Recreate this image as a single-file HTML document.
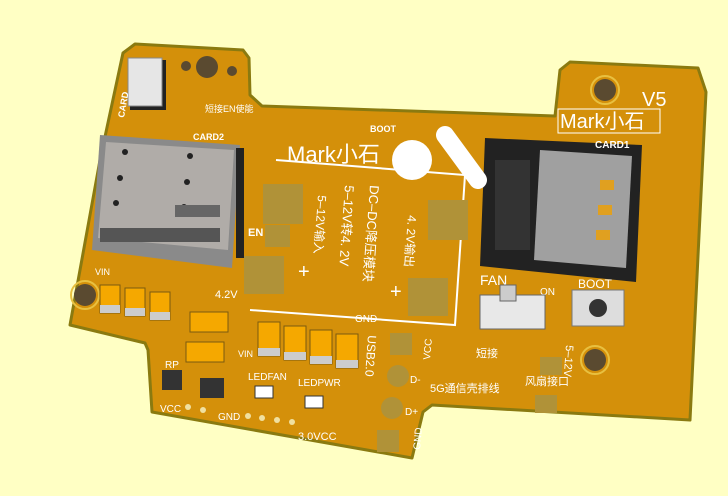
<!DOCTYPE html>
<html><head><meta charset="utf-8"><style>
body{margin:0;background:#FFFFC4;}
svg{display:block}
text{font-family:"Liberation Sans","Noto Sans CJK SC",sans-serif;fill:#fff}
</style></head><body>
<svg width="728" height="496" viewBox="0 0 728 496">
<rect width="728" height="496" fill="#FFFFC4"/>
<polygon points="135,44 243,50 249,58 250,95 262,106 555,116 560,70 570,62 698,68 706,92 690,420 432,405 423,412 412,458 152,412 148,350 145,343 70,325 100,160 123,53" fill="#D4900A" stroke="#8A7A10" stroke-width="3" stroke-linejoin="round"/>
<!-- mounting holes -->
<circle cx="207" cy="67" r="11" fill="#5a4a30"/>
<circle cx="186" cy="66" r="5" fill="#5a4a30"/><circle cx="232" cy="71" r="5" fill="#5a4a30"/>
<circle cx="605" cy="90" r="11" fill="#5a4a30"/><circle cx="605" cy="90" r="14" fill="none" stroke="#E8C040" stroke-width="2"/>
<circle cx="85" cy="295" r="11" fill="#5a4a30"/><circle cx="85" cy="295" r="14" fill="none" stroke="#E8C040" stroke-width="2"/>
<circle cx="595" cy="360" r="11" fill="#5a4a30"/><circle cx="595" cy="360" r="14" fill="none" stroke="#E8C040" stroke-width="2"/>
<!-- small switch top-left -->
<rect x="130" y="60" width="36" height="50" fill="#222"/>
<rect x="128" y="58" width="34" height="48" fill="#e6e6e6" stroke="#888"/>
<text transform="translate(124,118) rotate(-80)" font-size="9" font-weight="bold">CARD</text>
<!-- left SIM -->
<polygon points="100,135 240,145 232,268 92,250" fill="#8a8a8a"/>
<polygon points="106,142 234,150 228,250 98,238" fill="#b0aca8"/>
<circle cx="125" cy="152" r="3" fill="#222"/><circle cx="190" cy="156" r="3" fill="#222"/><circle cx="120" cy="178" r="3" fill="#222"/><circle cx="187" cy="182" r="3" fill="#222"/><circle cx="116" cy="203" r="3" fill="#222"/><circle cx="184" cy="207" r="3" fill="#222"/>
<rect x="175" y="205" width="45" height="12" fill="#666"/>
<rect x="100" y="228" width="120" height="14" fill="#555"/>
<rect x="236" y="148" width="8" height="110" fill="#222"/>
<!-- right SIM -->
<polygon points="485,138 642,145 636,282 480,266" fill="#222"/>
<polygon points="540,150 632,156 626,268 534,260" fill="#a0a0a0"/>
<rect x="495" y="160" width="35" height="90" fill="#333"/>
<rect x="600" y="180" width="14" height="10" fill="#E0A020"/><rect x="598" y="205" width="14" height="10" fill="#E0A020"/><rect x="596" y="230" width="14" height="10" fill="#E0A020"/>
<!-- DC-DC module outline -->
<polyline points="276,160 465,175 455,325 250,310" fill="none" stroke="#fff" stroke-width="2"/>
<rect x="263" y="184" width="40" height="40" fill="#B09238"/>
<rect x="428" y="200" width="40" height="40" fill="#B09238"/>
<rect x="244" y="256" width="40" height="38" fill="#B09238"/>
<rect x="408" y="278" width="40" height="38" fill="#B09238"/>
<rect x="265" y="225" width="25" height="22" fill="#B09238"/>
<text x="287" y="162" font-size="22">Mark小石</text>
<circle cx="412" cy="160" r="20" fill="#fff"/>
<line x1="445" y1="135" x2="478" y2="180" stroke="#fff" stroke-width="18" stroke-linecap="round"/>
<text transform="translate(318,195) rotate(94)" font-size="12">5–12V输入</text>
<text transform="translate(345,185) rotate(94)" font-size="13">5–12V转4. 2V</text>
<text transform="translate(370,185) rotate(94)" font-size="13">DC–DC降压模块</text>
<text transform="translate(408,215) rotate(94)" font-size="12">4. 2V输出</text>
<text x="298" y="278" font-size="20">+</text><text x="390" y="298" font-size="20">+</text>
<text x="248" y="236" font-size="11" font-weight="bold">EN</text>
<!-- labels -->
<text x="560" y="128" font-size="20">Mark小石</text>
<rect x="558" y="109" width="102" height="24" fill="none" stroke="#fff"/>
<text x="642" y="106" font-size="20">V5</text>
<text x="595" y="148" font-size="10" font-weight="bold">CARD1</text>
<text x="480" y="285" font-size="14">FAN</text>
<text x="540" y="295" font-size="10">ON</text>
<text x="578" y="288" font-size="12">BOOT</text>
<text x="215" y="298" font-size="11">4.2V</text>
<text x="193" y="140" font-size="9" font-weight="bold">CARD2</text>
<text x="205" y="112" font-size="9">短接EN使能</text>
<text x="370" y="132" font-size="9" font-weight="bold">BOOT</text>
<text x="430" y="392" font-size="11">5G通信壳排线</text>
<text x="476" y="357" font-size="11">短接</text>
<text x="525" y="385" font-size="11">风扇接口</text>
<text x="298" y="440" font-size="11">3.0VCC</text>
<text x="248" y="380" font-size="10">LEDFAN</text>
<text x="298" y="386" font-size="10">LEDPWR</text>
<text x="160" y="412" font-size="10">VCC</text>
<text x="218" y="420" font-size="10">GND</text>
<text x="95" y="275" font-size="9">VIN</text>
<text x="238" y="357" font-size="9">VIN</text>
<text x="355" y="322" font-size="10">GND</text>
<text x="165" y="368" font-size="10">RP</text>
<text transform="translate(368,335) rotate(94)" font-size="12">USB2.0</text>
<text transform="translate(566,345) rotate(94)" font-size="11">5–12V</text>
<text transform="translate(430,360) rotate(-85)" font-size="10">VCC</text>
<text transform="translate(420,450) rotate(-85)" font-size="10">GND</text>
<text x="410" y="383" font-size="10">D-</text>
<text x="405" y="415" font-size="10">D+</text>
<!-- resistors / caps -->
<g fill="#F5A800" stroke="#7a5a10">
<rect x="100" y="285" width="20" height="28"/><rect x="125" y="288" width="20" height="28"/><rect x="150" y="292" width="20" height="28"/>
<rect x="190" y="312" width="38" height="20"/><rect x="186" y="342" width="38" height="20"/>
<rect x="258" y="322" width="22" height="34"/><rect x="284" y="326" width="22" height="34"/><rect x="310" y="330" width="22" height="34"/><rect x="336" y="334" width="22" height="34"/>
</g>
<g fill="#ccc"><rect x="100" y="305" width="20" height="8"/><rect x="125" y="308" width="20" height="8"/><rect x="150" y="312" width="20" height="8"/><rect x="258" y="348" width="22" height="8"/><rect x="284" y="352" width="22" height="8"/><rect x="310" y="356" width="22" height="8"/><rect x="336" y="360" width="22" height="8"/></g>
<rect x="162" y="370" width="20" height="20" fill="#333"/><rect x="200" y="378" width="24" height="20" fill="#333"/>
<rect x="255" y="386" width="18" height="12" fill="#fff" stroke="#333"/><rect x="305" y="396" width="18" height="12" fill="#fff" stroke="#333"/>
<!-- slide switch -->
<rect x="480" y="295" width="65" height="34" fill="#e8e8e8" stroke="#666"/>
<rect x="500" y="285" width="16" height="16" fill="#ccc" stroke="#666"/>
<!-- boot button -->
<rect x="572" y="290" width="52" height="36" fill="#ddd" stroke="#777"/>
<circle cx="598" cy="308" r="9" fill="#333"/>
<!-- pads -->
<g fill="#B09238"><rect x="390" y="333" width="22" height="22"/><circle cx="398" cy="376" r="11"/><circle cx="392" cy="408" r="11"/><rect x="377" y="430" width="22" height="22"/><rect x="540" y="357" width="22" height="18"/><rect x="535" y="395" width="22" height="18"/></g>
<g fill="#F0E0A0"><circle cx="188" cy="407" r="3"/><circle cx="203" cy="410" r="3"/><circle cx="248" cy="416" r="3"/><circle cx="262" cy="418" r="3"/><circle cx="277" cy="420" r="3"/><circle cx="292" cy="422" r="3"/></g>
</svg>
</body></html>
